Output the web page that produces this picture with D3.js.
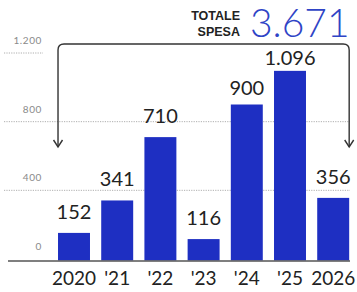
<!DOCTYPE html>
<html>
<head>
<meta charset="utf-8">
<script src="https://cdn.jsdelivr.net/npm/d3@7"></script>
<style>
  body { margin: 0; background: #fff; }
  svg { display: block; }
</style>
</head>
<body>
<svg id="chart" width="357" height="292"></svg>
<script>
// spesa per anno
const years = ["2020", "'21", "'22", "'23", "'24", "'25", "2026"]
const values = [152, 341, 710, 116, 900, 1096, 356]
const valueLabels = ["152", "341", "710", "116", "900", "1.096", "356"]
const yTicks = [0, 400, 800, 1200]
const yTickLabels = ["0", "400", "800", "1.200"]
const totalLabel = ["TOTALE", "SPESA"]
const totalValue = "3.671"

let svg = d3.select("#chart")

let xScale = d3.scaleBand()
    .domain(years)
    .range([52.4, 354.8])
    .paddingInner(0.26)
    .paddingOuter(0.13)

let yScale = d3.scaleLinear()
    .domain([0, 1200])
    .range([259, 53])

// gridlines (the top one stops short, the bracket sits there)
svg.selectAll("line.grid").data(yTicks.filter(d => d > 0))
    .join("line")
    .attr("class", "grid")
    .attr("x1", 4)
    .attr("x2", d => d == 1200 ? 43 : 350)
    .attr("y1", d => yScale(d))
    .attr("y2", d => yScale(d))
    .style("stroke", "#9a9a9a")
    .style("stroke-width", 0.8)
    .style("stroke-dasharray", "1.2,1.2")

svg.selectAll("text.ytick").data(yTicks)
    .join("text")
    .attr("class", "ytick")
    .attr("x", 42)
    .attr("y", d => yScale(d) - 9)
    .attr("text-anchor", "end")
    .style("font-family", "Lato, sans-serif")
    .style("font-size", "10px")
    .style("letter-spacing", "0.6px")
    .style("fill", "#8a8a8a")
    .text((d, i) => yTickLabels[i])

// bars
svg.selectAll("rect.bar").data(values)
    .join("rect")
    .attr("class", "bar")
    .attr("x", (d, i) => xScale(years[i]))
    .attr("width", xScale.bandwidth())
    .attr("y", d => yScale(d))
    .attr("height", d => yScale(0) + 1.5 - yScale(d))
    .style("fill", "#1e2fc2")

// baseline
svg.append("line")
    .attr("x1", 8).attr("x2", 350)
    .attr("y1", yScale(0) + 2).attr("y2", yScale(0) + 2)
    .style("stroke", "#555")
    .style("stroke-width", 1.3)

// value labels, pulled closer on the tall bars so they fit under the bracket
svg.selectAll("text.val").data(values)
    .join("text")
    .attr("class", "val")
    .attr("x", (d, i) => xScale(years[i]) + xScale.bandwidth() / 2)
    .attr("y", d => yScale(d) - (d > 1000 ? 6 : d > 850 ? 10 : 14))
    .attr("text-anchor", "middle")
    .style("font-family", "Lato, sans-serif")
    .style("font-size", "20px")
    .style("fill", "#222")
    .text((d, i) => valueLabels[i])

svg.selectAll("text.year").data(years)
    .join("text")
    .attr("class", "year")
    .attr("x", d => xScale(d) + xScale.bandwidth() / 2)
    .attr("y", 285)
    .attr("text-anchor", "middle")
    .style("font-family", "Lato, sans-serif")
    .style("font-size", "19px")
    .style("fill", "#222")
    .text(d => d)

// bracket with arrows
let bx0 = xScale(years[0])
let bx1 = xScale(years[years.length - 1]) + xScale.bandwidth()
let by = yScale(1200) - 9
let tip = 147
let r = 6
svg.append("path")
    .attr("d", `M${bx0},${tip} L${bx0},${by + r} Q${bx0},${by} ${bx0 + r},${by} L${bx1 - r},${by} Q${bx1},${by} ${bx1},${by + r} L${bx1},${tip}`)
    .style("fill", "none")
    .style("stroke", "#333")
    .style("stroke-width", 1.4)

svg.selectAll("path.arrow").data([bx0, bx1])
    .join("path")
    .attr("class", "arrow")
    .attr("d", d => `M${d - 4.5},${tip - 7} L${d},${tip} L${d + 4.5},${tip - 7}`)
    .style("fill", "none")
    .style("stroke", "#333")
    .style("stroke-width", 1.4)

// total
svg.selectAll("text.tot").data(totalLabel)
    .join("text")
    .attr("class", "tot")
    .attr("x", 240)
    .attr("y", (d, i) => 20 + i * 16)
    .attr("text-anchor", "end")
    .style("font-family", "'Liberation Sans', Arial, sans-serif")
    .style("font-weight", "bold")
    .style("font-size", "12.5px")
    .style("fill", "#222")
    .text(d => d)

svg.append("text")
    .attr("x", 250)
    .attr("y", 37)
    .style("font-family", "Lato, sans-serif")
    .style("font-weight", 300)
    .style("font-size", "39px")
    .style("fill", "#2f44c6")
    .text(totalValue)
</script>
</body>
</html>
